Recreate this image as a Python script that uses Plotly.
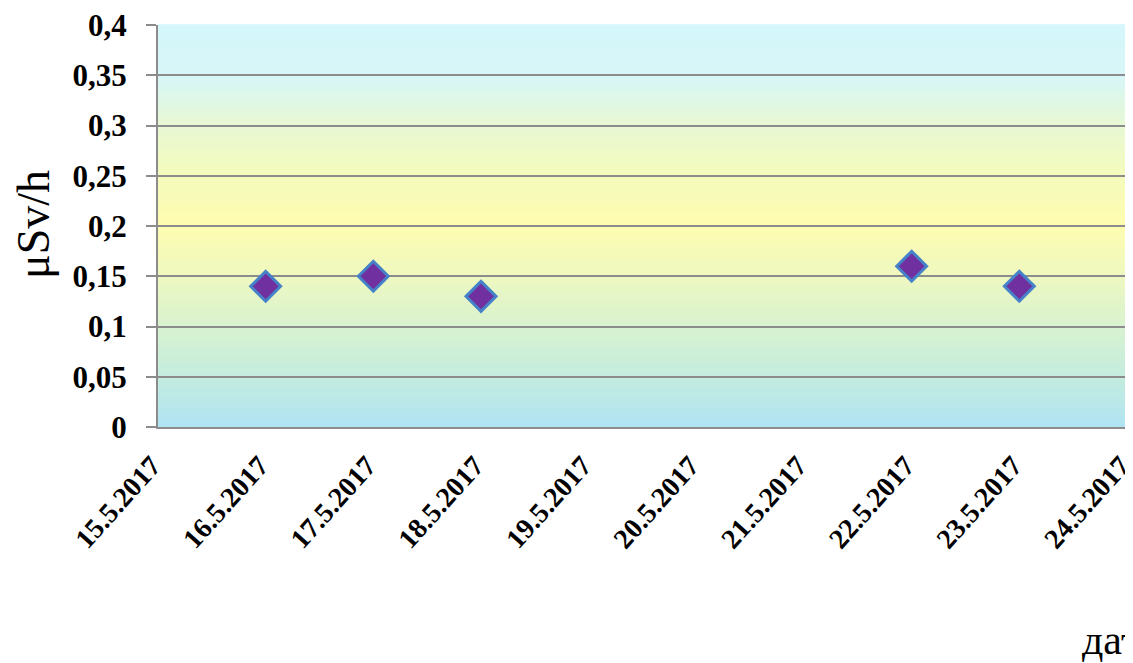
import plotly.graph_objects as go

dates = ["2017-05-16", "2017-05-17", "2017-05-18", "2017-05-22", "2017-05-23"]
values = [0.14, 0.15, 0.13, 0.16, 0.14]

tick_dates = ["2017-05-15", "2017-05-16", "2017-05-17", "2017-05-18", "2017-05-19",
              "2017-05-20", "2017-05-21", "2017-05-22", "2017-05-23", "2017-05-24"]
tick_labels = ["15.5.2017", "16.5.2017", "17.5.2017", "18.5.2017", "19.5.2017",
               "20.5.2017", "21.5.2017", "22.5.2017", "23.5.2017", "24.5.2017"]
y_ticks = [0, 0.05, 0.1, 0.15, 0.2, 0.25, 0.3, 0.35, 0.4]
y_labels = ["0", "0,05", "0,1", "0,15", "0,2", "0,25", "0,3", "0,35", "0,4"]

# background gradient stops (fraction from bottom, colour)
stops = [(0.0, (176, 228, 244)), (0.125, (196, 236, 222)), (0.25, (216, 242, 208)),
         (0.375, (238, 248, 192)), (0.5, (254, 252, 176)), (0.625, (244, 251, 188)),
         (0.75, (232, 248, 212)), (0.875, (214, 246, 248)), (1.0, (213, 246, 250))]

def interp(f):
    for (f0, c0), (f1, c1) in zip(stops[:-1], stops[1:]):
        if f0 <= f <= f1:
            t = (f - f0) / (f1 - f0) if f1 > f0 else 0
            return "rgb(%d,%d,%d)" % tuple(round(a + (b - a) * t) for a, b in zip(c0, c1))
    return "rgb(%d,%d,%d)" % stops[-1][1]

n = 120
shapes = []
for i in range(n):
    f0 = i / n
    f1 = (i + 1) / n
    shapes.append(dict(type="rect", xref="paper", yref="paper", x0=0, x1=1,
                       y0=f0, y1=f1 + 0.002, fillcolor=interp((f0 + f1) / 2),
                       line=dict(width=0), layer="below"))

fig = go.Figure()
fig.add_trace(go.Scatter(
    x=dates, y=values, mode="markers",
    marker=dict(symbol="diamond", size=23, color="#7030a0",
                line=dict(color="#4682c8", width=3)),
    cliponaxis=False,
))

serif = "Liberation Serif, Times New Roman, serif"
# page body has an 8px margin, so the figure is 8px smaller and margins shifted
fig.update_layout(
    width=1125, height=655,
    margin=dict(l=150, r=6, t=17, b=236, autoexpand=False),
    paper_bgcolor="white", plot_bgcolor="rgba(0,0,0,0)",
    showlegend=False,
    shapes=shapes,
    font=dict(family=serif, color="black"),
    xaxis=dict(type="date", range=["2017-05-15", "2017-05-24"], automargin=False,
               tickvals=tick_dates, ticktext=tick_labels, tickangle=-48,
               ticklabeloverflow="allow", ticklabelshift=-6,
               tickfont=dict(family=serif, size=28, color="black", weight="bold"),
               showgrid=False, zeroline=False, showline=True,
               linecolor="#8c8c8c", linewidth=2,
               ticks="outside", ticklen=9, tickcolor="rgba(0,0,0,0)"),
    yaxis=dict(range=[0, 0.4], tickvals=y_ticks, ticktext=y_labels, automargin=False,
               ticklabeloverflow="allow",
               tickfont=dict(family=serif, size=31, color="black", weight="bold"),
               showgrid=True, gridcolor="#8c8c8c", gridwidth=2,
               zeroline=False, showline=True, linecolor="#8c8c8c", linewidth=2,
               ticks="outside", ticklen=10, tickcolor="#8c8c8c", tickwidth=2,
               ticklabelstandoff=13),
    annotations=[
        dict(text="μSv/h", xref="paper", yref="paper", x=(33 - 158) / 969, y=(427 - 224) / 402,
             xanchor="center", yanchor="middle", textangle=-90, showarrow=False,
             font=dict(family=serif, size=46, color="black")),
        dict(text="дата", xref="paper", yref="paper", x=(1080 - 158) / 969, y=(427 - 640) / 402,
             xanchor="left", yanchor="middle", showarrow=False,
             font=dict(family=serif, size=42, color="black")),
    ],
)

fig.write_html("out.html")
